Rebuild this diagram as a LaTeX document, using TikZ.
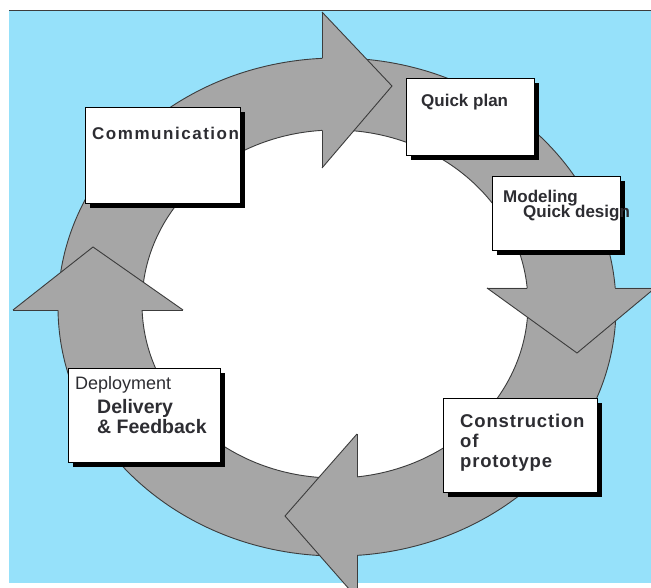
\documentclass[tikz,border=0pt]{standalone}
\usepackage{fontspec}
\setmainfont{Liberation Sans}
\usetikzlibrary{shadows}
\definecolor{skyblue}{RGB}{150,225,250}
\definecolor{ringgray}{RGB}{166,166,166}
\definecolor{edgegray}{RGB}{60,60,60}
\definecolor{txt}{RGB}{45,45,50}
\tikzset{
  stagebox/.style={draw=black, line width=0.8pt, fill=white, rectangle, inner sep=0pt,
     drop shadow={shadow xshift=5pt, shadow yshift=-5pt, fill=black, opacity=1}},
  lbl/.style={anchor=base west, inner sep=0pt, text=txt},
  edgeline/.style={draw=edgegray, line width=0.9pt, line join=miter},
}
\begin{document}
\begin{tikzpicture}[x=1pt,y=-1pt]
\useasboundingbox (0,0) rectangle (651,588);
\begin{scope}
\clip (0,0) rectangle (651,588);
% background
\fill[skyblue] (9,11) rectangle (651,583);
\draw[edgegray, line width=1pt] (9,11) -- (651,11);
% ring
\fill[white] (335,304) ellipse [x radius=193pt, y radius=174pt];
\path[fill=ringgray, even odd rule] (337,307) ellipse [x radius=279pt, y radius=249pt]
      (335,304) ellipse [x radius=193pt, y radius=174pt];
\path[edgeline] (337,307) ellipse [x radius=279pt, y radius=249pt];
\path[edgeline] (335,304) ellipse [x radius=193pt, y radius=174pt];
% arrow heads: fill, then slanted edges
\fill[ringgray] (322,12) -- (392,86) -- (322,168) -- cycle;
\fill[ringgray] (487,288) -- (577,353) -- (655,288) -- cycle;
\fill[ringgray] (357,434) -- (285,516) -- (357,598) -- cycle;
\fill[ringgray] (13,310) -- (93,247) -- (183,310) -- cycle;
\path[edgeline] (322,12) -- (392,86) -- (322,168);
\path[edgeline] (487,288) -- (577,353) -- (655,288);
\path[edgeline] (357,434) -- (285,516) -- (357,598);
\path[edgeline] (13,310) -- (93,247) -- (183,310);
% back edges only outside the ring
\begin{scope}[even odd rule]
\clip (0,0) rectangle (651,588)
      (337,307) ellipse [x radius=279pt, y radius=249pt]
      (335,304) ellipse [x radius=193pt, y radius=174pt];
\path[edgeline] (322,12) -- (322,168);
\path[edgeline] (487,288) -- (655,288);
\path[edgeline] (357,434) -- (357,598);
\path[edgeline] (13,310) -- (183,310);
\end{scope}
\end{scope}
% boxes
\node[stagebox, minimum width=155pt, minimum height=96pt] (comm) at (162.5,155) {};
\node[stagebox, minimum width=128pt, minimum height=77pt] (plan) at (470,116.5) {};
\node[stagebox, minimum width=128pt, minimum height=74pt] (model) at (556,213) {};
\node[stagebox, minimum width=152pt, minimum height=94pt] (deploy) at (144,415) {};
\node[stagebox, minimum width=154pt, minimum height=94pt] (constr) at (520,445) {};
% labels
\begin{scope}[font=\fontsize{17}{20}\selectfont\bfseries]
\node[lbl, font=\fontsize{17}{20}\selectfont\bfseries\addfontfeatures{LetterSpace=9}] (t1) at (92,140) {Communication};
\node[lbl] (t2) at (421,107) {Quick plan};
\node[lbl] (t3) at (503,203) {Modeling};
\node[lbl] (t4) at (523,218) {Quick design};
\node[lbl, font=\fontsize{18}{20}\selectfont] (t5) at (75,389) {Deployment};
\node[lbl, font=\fontsize{19.5}{20}\selectfont\bfseries] (t6) at (97,413) {Delivery};
\node[lbl, font=\fontsize{19.5}{20}\selectfont\bfseries] (t7) at (97,433) {\& Feedback};
\begin{scope}[font=\fontsize{18.5}{20}\selectfont\bfseries\addfontfeatures{LetterSpace=4.5}]
\node[lbl] (t8) at (460,427) {Construction};
\node[lbl] (t9) at (460,447) {of};
\node[lbl] (t10) at (460,467) {prototype};
\end{scope}
\end{scope}
\end{tikzpicture}
\end{document}
